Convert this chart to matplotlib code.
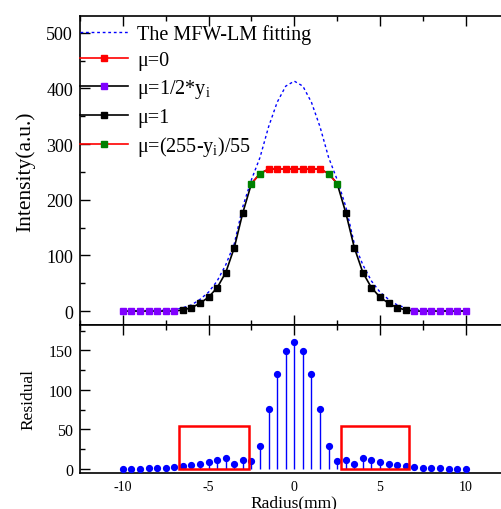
import matplotlib
matplotlib.use("Agg")
import matplotlib.pyplot as plt
from matplotlib.patches import Rectangle
from matplotlib.ticker import MultipleLocator

plt.rcParams['font.family'] = ['Liberation Serif', 'DejaVu Serif']
plt.rcParams['mathtext.fontset'] = 'custom'
plt.rcParams['mathtext.rm'] = 'Liberation Serif'
plt.rcParams['mathtext.it'] = 'Liberation Serif'
plt.rcParams['mathtext.default'] = 'regular'
plt.rcParams['axes.unicode_minus'] = False

# ---------------- data ----------------
radius = [-10, -9.5, -9, -8.5, -8, -7.5, -7, -6.5, -6, -5.5, -5, -4.5, -4, -3.5, -3,
          -2.5, -2, -1.5, -1, -0.5, 0, 0.5, 1, 1.5, 2, 2.5, 3, 3.5, 4, 4.5, 5, 5.5,
          6, 6.5, 7, 7.5, 8, 8.5, 9, 9.5, 10]
measured = [0, 0, 0, 0, 0, 0, 0, 2, 6, 14, 25, 42, 69, 114, 177,
            229, 247, 255, 255, 255, 255, 255, 255, 255, 247, 229,
            177, 114, 69, 42, 25, 14, 6, 2, 0, 0, 0, 0, 0, 0, 0]
fit = [0.5, 0.5, 0.5, 1, 1, 1.5, 2.5, 6, 11, 21, 34, 54, 83, 121, 188,
       236, 276, 331, 375, 404, 413, 404, 375, 331, 276, 236,
       188, 121, 83, 54, 34, 21, 11, 6, 2.5, 1.5, 1, 1, 0.5, 0.5, 0.5]
residual = [0.5, 0.5, 0.5, 1, 1, 1.5, 2.5, 4, 5, 7, 9, 12, 13.5, 7, 11,
            10, 29, 76, 120, 149, 160, 149, 120, 76, 29, 10,
            11, 7, 13.5, 12, 9, 7, 5, 4, 2.5, 1.5, 1, 1, 0.5, 0.5, 0.5]
# series membership of each point: 'h' = mu=1/2*y_i, 'o' = mu=1, 'g' = mu=(255-y_i)/55, 'z' = mu=0
series = ['h'] * 7 + ['o'] * 8 + ['g'] * 2 + ['z'] * 7 + ['g'] * 2 + ['o'] * 8 + ['h'] * 7

labels = ['The MFW-LM fitting', 'μ=0', 'μ=1/2*y$_{i}$', 'μ=1', 'μ=(255-y$_{i}$)/55']
box_x = [(-6.7, -2.65), (2.75, 6.7)]
box_y = (-0.5, 55)

# ---------------- figure ----------------
fig = plt.figure(figsize=(5.01, 5.10), dpi=100)
W, H = 501, 510
left_px, right_px = 80, 508.6
ax1 = fig.add_axes([left_px / W, 1 - 326 / H, (right_px - left_px) / W, (326 - 17) / H])
ax2 = fig.add_axes([left_px / W, 1 - 474 / H, (right_px - left_px) / W, (474 - 326) / H])

lw_sp = 1.2
for ax in (ax1, ax2):
    for s in ax.spines.values():
        s.set_linewidth(lw_sp)
    ax.set_xlim(-12.5, 12.5)
    ax.xaxis.set_major_locator(MultipleLocator(5))
    ax.xaxis.set_minor_locator(MultipleLocator(2.5))

# top panel
l_fit, = ax1.plot(radius, fit, color='#0000FF', lw=1.0, ls=(0, (2, 2)), zorder=2)
ax1.plot(radius, measured, color='black', lw=1.2, zorder=3)
ig = [i for i, s in enumerate(series) if s in ('g', 'z')]
ax1.plot([radius[i] for i in ig], [measured[i] for i in ig], color='red', lw=1.2, zorder=4)

def pick(code):
    idx = [i for i, s in enumerate(series) if s == code]
    return [radius[i] for i in idx], [measured[i] for i in idx]

ms = 5
xs, ys = pick('z')
ax1.plot(xs, ys, ls='none', marker='s', ms=ms, color='#FF0000', zorder=5)
xs, ys = pick('h')
ax1.plot(xs, ys, ls='none', marker='s', ms=ms, color='#8000FF', zorder=5)
xs, ys = pick('o')
ax1.plot(xs, ys, ls='none', marker='s', ms=ms, color='black', zorder=5)
xs, ys = pick('g')
ax1.plot(xs, ys, ls='none', marker='s', ms=ms, color='#008000', zorder=5)

# legend proxies
h0, = ax1.plot([], [], color='red', lw=1.2, marker='s', ms=ms, mfc='red', mec='red')
h1, = ax1.plot([], [], color='black', lw=1.2, marker='s', ms=ms, mfc='#8000FF', mec='#8000FF')
h2, = ax1.plot([], [], color='black', lw=1.2, marker='s', ms=ms, mfc='black', mec='black')
h3, = ax1.plot([], [], color='red', lw=1.2, marker='s', ms=ms, mfc='#008000', mec='#008000')
ax1.legend([l_fit, h0, h1, h2, h3], labels, loc='upper left', bbox_to_anchor=(0.0, 0.975),
           frameon=False, fontsize=14.5, handlelength=2.4, handletextpad=0.45,
           borderaxespad=0, borderpad=0, labelspacing=0.36)

ax1.set_ylim(-25, 530)
ax1.yaxis.set_major_locator(MultipleLocator(100))
ax1.yaxis.set_minor_locator(MultipleLocator(50))
ax1.set_yticks([0, 100, 200, 300, 400, 500])
ax1.tick_params(which='both', direction='in', top=True, bottom=True, left=True, right=False,
                labelbottom=False, labelsize=13, width=1.0, pad=5)
ax1.tick_params(which='major', length=7)
ax1.tick_params(which='minor', length=3.5)
ax1.set_ylabel('Intensity(a.u.)', fontsize=15.5, labelpad=8)

# bottom panel
ax2.vlines(radius, 0, residual, color='#0000FF', lw=1.0, zorder=2)
ax2.plot(radius, residual, ls='none', marker='o', ms=4.2, color='#0000FF', zorder=3)
for (x0, x1) in box_x:
    ax2.add_patch(Rectangle((x0, box_y[0]), x1 - x0, box_y[1] - box_y[0], fill=False,
                            ec='#FF0000', lw=1.8, zorder=4))
ax2.set_ylim(-5, 182)
ax2.yaxis.set_major_locator(MultipleLocator(50))
ax2.yaxis.set_minor_locator(MultipleLocator(25))
ax2.tick_params(which='both', direction='in', top=True, bottom=False, left=True, right=False,
                labelbottom=True, width=1.0)
ax2.tick_params(axis='y', labelsize=11.5, pad=5)
ax2.tick_params(axis='x', labelsize=10, pad=5)
ax2.tick_params(which='major', length=7)
ax2.tick_params(which='minor', length=3.5)
ax2.set_ylabel('Residual', fontsize=12.5, labelpad=9)
ax2.set_xlabel('Radius(mm)', fontsize=12.5, labelpad=1)

fig.savefig('out.png', dpi=100)
